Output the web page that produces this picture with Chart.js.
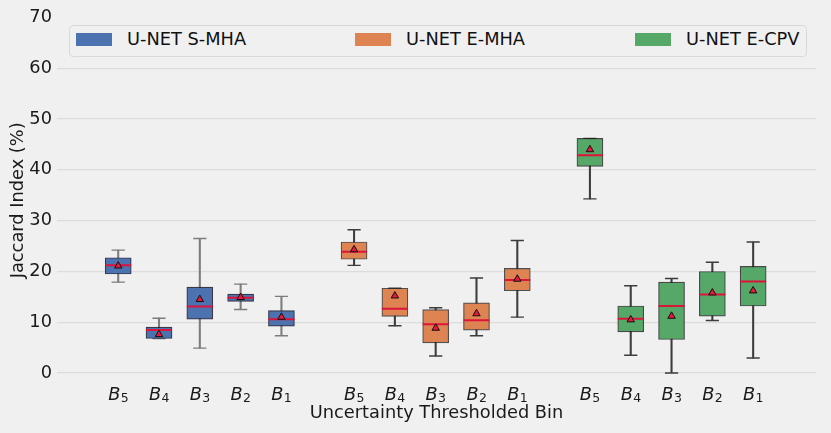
<!DOCTYPE html>
<html><head><meta charset="utf-8">
<script src="https://cdn.jsdelivr.net/npm/chart.js@4.4.1/dist/chart.umd.min.js"></script>
<style>
html,body{margin:0;padding:0;background:#f0f0f0;}
#wrap{position:relative;width:831px;height:433px;background:#f0f0f0;font-family:'DejaVu Sans',sans-serif;}
#chart{position:absolute;left:0;top:0;}
#legend{position:absolute;left:69px;top:25px;width:738px;height:32px;box-sizing:border-box;border:1px solid #d9d9d9;border-radius:4px;background:#f0f0f0;z-index:2;}
.item{position:absolute;top:0;height:100%;}
.sw{position:absolute;left:0;top:7.3px;width:36px;height:12.7px;}
.lb{position:absolute;left:51px;top:3.2px;font-size:17.8px;line-height:20.7px;white-space:nowrap;color:#111;}
</style></head>
<body>
<div id="wrap">
  <canvas id="chart" width="831" height="433"></canvas>
  <div id="legend"></div>
</div>
<script>
// ---------- data ----------
const binLabels = ['B_5', 'B_4', 'B_3', 'B_2', 'B_1'];
const seriesNames = ['U-NET S-MHA', 'U-NET E-MHA', 'U-NET E-CPV'];
const yTicks = [0, 10, 20, 30, 40, 50, 60, 70];

const sMhaWhiskerLow  = [17.9, 6.8, 4.9, 12.5, 7.35];
const sMhaQ1          = [19.5, 6.8, 10.6, 14.1, 9.25];
const sMhaMedian      = [21.2, 8.45, 13.1, 14.8, 10.6];
const sMhaQ3          = [22.7, 9.05, 16.9, 15.55, 12.3];
const sMhaWhiskerHigh = [24.2, 10.8, 26.5, 17.5, 15.1];
const sMhaMean        = [21.1, 7.6, 14.5, 14.9, 11.0];

const eMhaWhiskerLow  = [21.2, 9.3, 3.35, 7.35, 11.0];
const eMhaQ1          = [22.4, 11.15, 5.95, 8.45, 16.2];
const eMhaMedian      = [23.9, 12.65, 9.6, 10.4, 18.3];
const eMhaQ3          = [25.8, 16.7, 12.5, 13.8, 20.6];
const eMhaWhiskerHigh = [28.2, 16.7, 12.85, 18.7, 26.1];
const eMhaMean        = [24.3, 15.2, 8.85, 11.7, 18.5];

const eCpvWhiskerLow  = [34.3, 3.5, 0.0, 10.35, 2.95];
const eCpvQ1          = [40.7, 8.1, 6.6, 11.2, 13.2];
const eCpvMedian      = [42.9, 10.7, 13.2, 15.45, 18.0];
const eCpvQ3          = [46.2, 13.2, 17.9, 20.0, 21.0];
const eCpvWhiskerHigh = [46.2, 17.2, 18.6, 21.8, 25.8];
const eCpvMean        = [44.0, 10.5, 11.2, 15.8, 16.2];

// ---------- styling ----------
const groupStride = 5.78;
const series = [
  {name: seriesNames[0], color: '#4c72b0', whisker: '#7c7c7c', edge: 'rgba(25,25,45,0.85)',
   lo: sMhaWhiskerLow, q1: sMhaQ1, med: sMhaMedian, q3: sMhaQ3, hi: sMhaWhiskerHigh, mean: sMhaMean},
  {name: seriesNames[1], color: '#dd8452', whisker: '#3c3c3c', edge: 'rgba(40,40,40,0.8)',
   lo: eMhaWhiskerLow, q1: eMhaQ1, med: eMhaMedian, q3: eMhaQ3, hi: eMhaWhiskerHigh, mean: eMhaMean},
  {name: seriesNames[2], color: '#55a868', whisker: '#3c3c3c', edge: 'rgba(30,30,30,0.8)',
   lo: eCpvWhiskerLow, q1: eCpvQ1, med: eCpvMedian, q3: eCpvQ3, hi: eCpvWhiskerHigh, mean: eCpvMean}
];

const tickPositions = [];
const datasets = [];
series.forEach((s, g) => {
  const xs = binLabels.map((_, i) => g * groupStride + i);
  tickPositions.push(...xs);
  datasets.push({type: 'bar', label: s.name + ' whiskers',
    data: xs.map((x, i) => ({x, y: [s.lo[i], s.hi[i]]})),
    backgroundColor: s.whisker, borderWidth: 0, barThickness: 1.4, grouped: false, order: 5});
  datasets.push({type: 'scatter', label: s.name + ' caps',
    data: xs.flatMap((x, i) => [{x, y: s.lo[i]}, {x, y: s.hi[i]}]),
    pointStyle: 'line', pointRadius: 6.6, pointBorderWidth: 1.4, pointBorderColor: s.whisker, order: 4});
  datasets.push({type: 'bar', label: s.name,
    data: xs.map((x, i) => ({x, y: [s.q1[i], s.q3[i]]})),
    backgroundColor: s.color, borderColor: s.edge, borderWidth: 1.2, borderSkipped: false,
    barThickness: 26, grouped: false, order: 3});
  datasets.push({type: 'scatter', label: s.name + ' median',
    data: xs.map((x, i) => ({x, y: s.med[i]})),
    pointStyle: 'line', pointRadius: 13, pointBorderWidth: 2, pointBorderColor: '#dc143c', order: 2});
  datasets.push({type: 'scatter', label: s.name + ' mean',
    data: xs.map((x, i) => ({x, y: s.mean[i]})),
    pointStyle: 'triangle', pointRadius: 4.3, pointBackgroundColor: '#e8173b',
    pointBorderColor: '#111', pointBorderWidth: 1, order: 1});
});

// ---------- legend (HTML) ----------
const legendEl = document.getElementById('legend');
const legendOffsets = [6, 285, 565];
series.forEach((s, g) => {
  const it = document.createElement('div');
  it.className = 'item';
  it.style.left = legendOffsets[g] + 'px';
  it.innerHTML = '<div class="sw" style="background:' + s.color + '"></div><div class="lb"></div>';
  it.querySelector('.lb').textContent = s.name;
  legendEl.appendChild(it);
});

const FONT = "'DejaVu Sans', sans-serif";

// x tick labels in math style: italic letter + upright subscript
const binTickPlugin = {
  id: 'binTicks',
  afterDraw(chart) {
    const sc = chart.scales.x;
    const ctx = chart.ctx;
    ctx.save();
    ctx.fillStyle = '#1a1a1a';
    ctx.textBaseline = 'alphabetic';
    ctx.textAlign = 'left';
    const baseY = chart.chartArea.bottom + 16.8;
    tickPositions.forEach((v, idx) => {
      const parts = binLabels[idx % binLabels.length].split('_');
      const px = sc.getPixelForValue(v);
      ctx.font = 'italic 17.8px ' + FONT;
      const w1 = ctx.measureText(parts[0]).width;
      ctx.font = '12.5px ' + FONT;
      const w2 = ctx.measureText(parts[1]).width;
      const x0 = px - (w1 + w2) / 2;
      ctx.font = 'italic 17.8px ' + FONT;
      ctx.fillText(parts[0], x0, baseY);
      ctx.font = '12.5px ' + FONT;
      ctx.fillText(parts[1], x0 + w1 + 0.3, baseY + 2.4);
    });
    ctx.restore();
  }
};

new Chart(document.getElementById('chart'), {
  type: 'bar',
  data: {datasets},
  plugins: [binTickPlugin],
  options: {
    responsive: false,
    animation: false,
    events: [],
    layout: {padding: {left: 0, right: 10, top: 17.5, bottom: 0}},
    plugins: {legend: {display: false}, tooltip: {enabled: false}},
    scales: {
      x: {
        type: 'linear', min: -1.5, max: 17.1, offset: false,
        grid: {display: false, offset: false, drawTicks: false},
        border: {display: false},
        afterBuildTicks: (sc) => { sc.ticks = tickPositions.map(v => ({value: v})); },
        afterFit: (sc) => { sc.height = 49.8; },
        ticks: {display: false},
        title: {display: true, text: 'Uncertainty Thresholded Bin', color: '#1a1a1a',
          font: {family: FONT, size: 17.8}, padding: {top: 0, bottom: 9.3}}
      },
      y: {
        min: -2, max: 70,
        afterBuildTicks: (sc) => { sc.ticks = yTicks.map(v => ({value: v})); },
        afterFit: (sc) => { sc.width = 57; },
        grid: {
          color: (c) => (c.tick && c.tick.value === 70) ? 'rgba(0,0,0,0)' : '#dcdcdc',
          lineWidth: 1.3, drawTicks: false
        },
        border: {display: false},
        ticks: {padding: 5, color: '#1a1a1a', font: {family: FONT, size: 17.8}},
        title: {display: true, text: 'Jaccard Index (%)', color: '#1a1a1a',
          font: {family: FONT, size: 17.8}, padding: {top: 8, bottom: 0}}
      }
    }
  }
});
</script>
</body></html>
